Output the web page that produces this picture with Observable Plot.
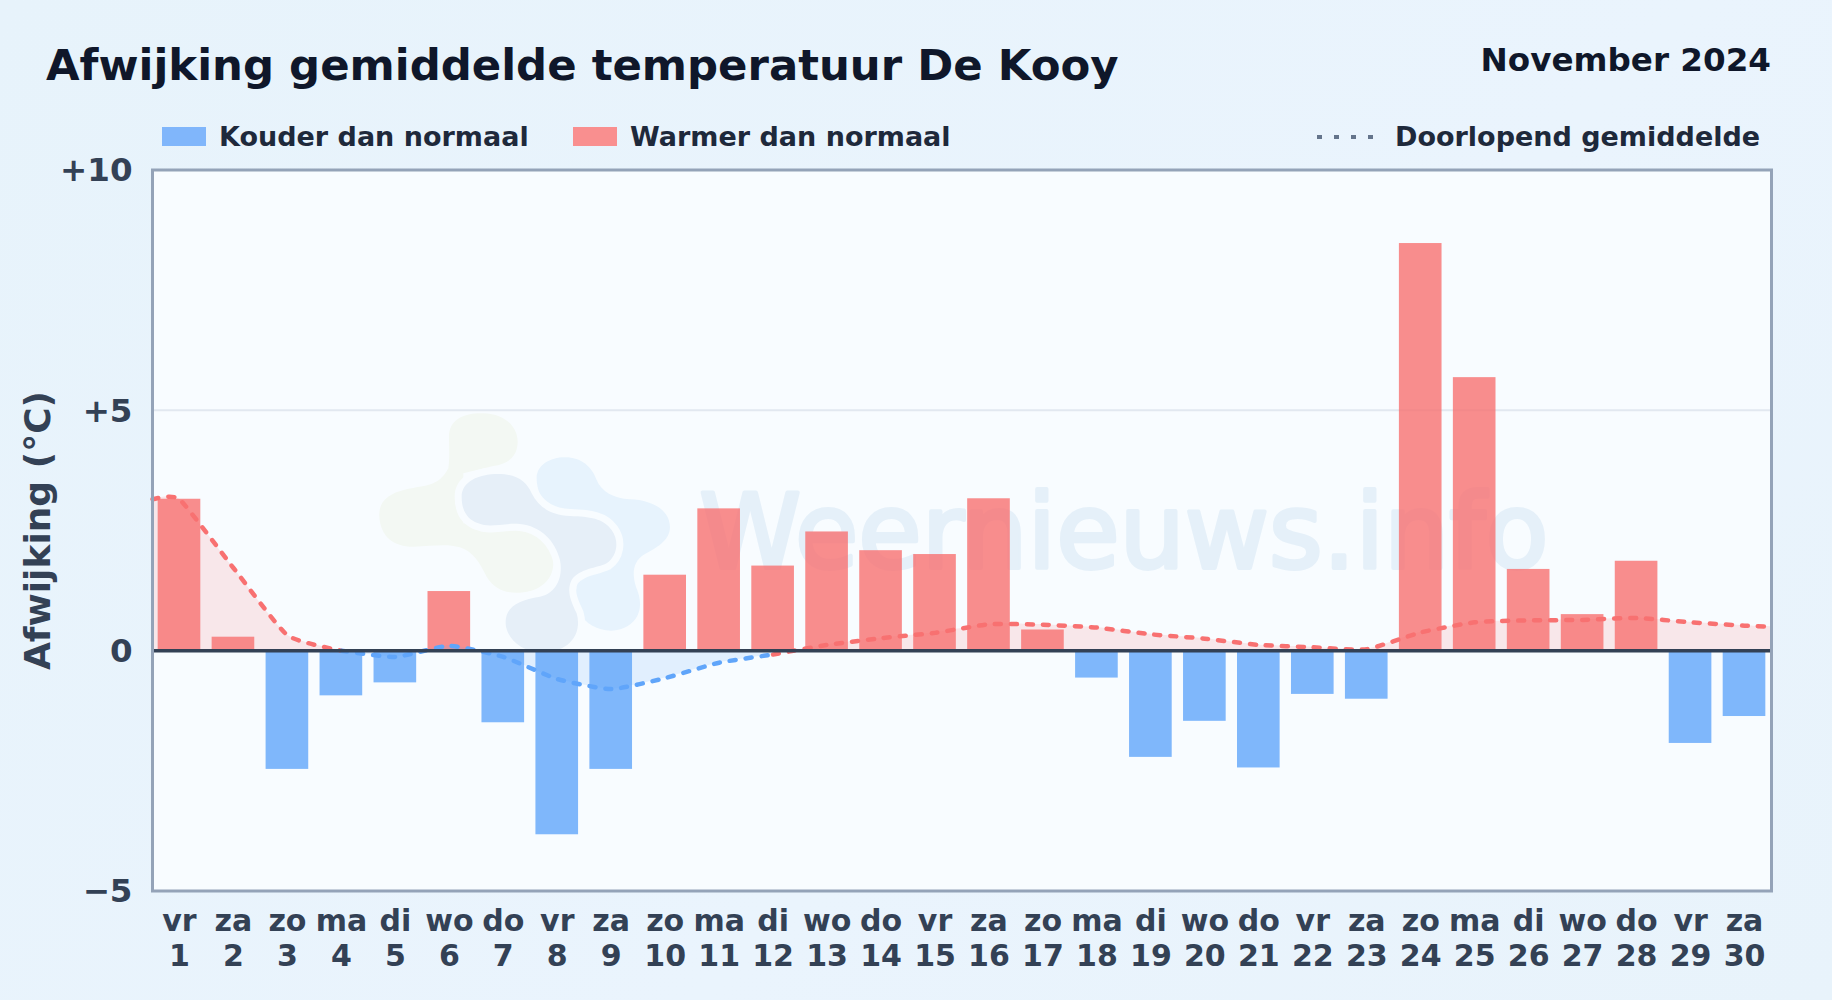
<!DOCTYPE html>
<html lang="nl">
<head>
<meta charset="utf-8">
<title>Afwijking gemiddelde temperatuur De Kooy</title>
<script src="https://cdn.jsdelivr.net/npm/d3@7"></script>
<script src="https://cdn.jsdelivr.net/npm/@observablehq/plot@0.6"></script>
<style>
  html, body { margin: 0; padding: 0; width: 1832px; height: 1000px; overflow: hidden; }
  body { background: linear-gradient(135deg, #e7f3fb 0%, #eaf4fd 60%, #e8f3fb 100%); font-family: "DejaVu Sans", sans-serif; font-weight: 700; }
  #head { position: relative; width: 1832px; height: 140px; }
  #head > * { position: absolute; white-space: nowrap; line-height: 1; }
  #title { left: 46px; top: 44px; font-size: 43.4px; color: #0f172a; }
  #month { right: 61px; top: 44px; font-size: 32.6px; color: #0f172a; }
  .lab { font-size: 27px; color: #1e293b; top: 123px; }
  .sw { top: 127px; height: 19px; width: 44px; }
  #chart svg { display: block; }
</style>
</head>
<body>
<div id="head">
  <div id="title">Afwijking gemiddelde temperatuur De Kooy</div>
  <div id="month">November 2024</div>
  <div class="sw" style="left:162px;background:#80b6fb"></div>
  <div class="lab" style="left:219px">Kouder dan normaal</div>
  <div class="sw" style="left:573px;background:#f98f8f"></div>
  <div class="lab" style="left:630px">Warmer dan normaal</div>
  <svg style="left:1317px;top:134px" width="58" height="6"><line x1="0" y1="3" x2="58" y2="3" stroke="#64748b" stroke-width="4" stroke-dasharray="5 12"/></svg>
  <div class="lab" style="left:1395px">Doorlopend gemiddelde</div>
</div>
<div id="chart"></div>
<script>
const days = d3.range(1, 31);
const weekdays = ["vr","za","zo","ma","di","wo","do","vr","za","zo","ma","di","wo","do","vr","za","zo","ma","di","wo","do","vr","za","zo","ma","di","wo","do","vr","za"];
const deviation = [3.15,0.28,-2.47,-0.94,-0.67,1.23,-1.5,-3.83,-2.47,1.57,2.95,1.76,2.47,2.08,2.0,3.16,0.43,-0.57,-2.22,-1.47,-2.44,-0.91,-1.01,8.47,5.68,1.69,0.75,1.86,-1.93,-1.37];
const meanWarmStartX = [0.5,1,2,3,4];
const meanWarmStart = [3.15,3.15,1.72,0.32,0.0];
const meanCoolX = [4,5,6,7,8,9,10,11,12];
const meanCool = [0.0,-0.13,0.1,-0.13,-0.59,-0.8,-0.57,-0.25,-0.08];
const meanWarmEndX = [12,13,14,15,16,17,18,19,20,21,22,23,24,25,26,27,28,29,30,30.5];
const meanWarmEnd = [-0.08,0.12,0.26,0.37,0.55,0.54,0.48,0.34,0.25,0.12,0.07,0.03,0.38,0.59,0.63,0.64,0.68,0.59,0.52,0.5];

const bars = days.map((d, i) => ({day: d, v: deviation[i]}));
const pts = (xs, ys) => xs.map((x, i) => ({x, y: ys[i]}));
const warmA = pts(meanWarmStartX, meanWarmStart);
const cool = pts(meanCoolX, meanCool);
const warmB = pts(meanWarmEndX, meanWarmEnd);

const RED = "#f87171", BLUE = "#60a5fa", INK = "#334155", PANEL = "#f8fcff";
const FONT = "DejaVu Sans";

function logo() {
  const g = d3.create("svg:g").attr("transform", "translate(350,260) scale(0.3333)");
  g.append("path").attr("fill", "#f3f8f3").attr("d",
    "M297,110 C297,60 340,38 400,40 C470,42 505,85 503,130 C500,175 470,192 430,198 L340,220 L340,370 L510,385 C570,400 610,440 610,490 C610,540 570,575 510,578 C470,580 435,570 410,530 C390,490 370,455 330,442 C290,430 250,438 190,440 C130,440 92,410 88,350 C85,305 115,280 170,268 C225,255 265,262 295,205 C300,170 297,140 297,110 Z");
  g.append("path").attr("fill", "#e7f3fd").attr("d",
    "M560,235 C560,195 600,172 645,172 C695,172 725,200 740,240 C755,275 790,295 840,298 C900,300 958,325 960,380 C960,420 925,440 880,465 C850,485 845,520 858,560 C880,610 875,660 820,685 C770,705 710,680 690,640 C670,600 660,560 680,520 L700,400 L600,330 C575,300 560,270 560,235 Z");
  g.append("path").attr("fill", "#e6eff8").attr("stroke", PANEL).attr("stroke-width", 42).attr("paint-order", "stroke").attr("d",
    "M335,290 C335,245 385,222 445,222 C500,222 530,245 545,280 C565,320 600,345 660,348 C720,350 760,355 785,390 C810,425 800,470 770,490 C740,505 690,505 665,540 C650,570 660,600 680,640 C695,690 670,745 600,755 C530,765 480,730 468,680 C460,625 500,600 570,590 C620,580 640,530 630,480 C615,420 570,378 510,372 C460,368 420,385 385,370 C350,358 335,330 335,290 Z");
  return g.node();
}

const lineOpts = {x: "x", y: "y", curve: "cardinal", tension: 0.5, strokeWidth: 4.5, strokeDasharray: "6 10", strokeLinecap: "round"};
const areaOpts = {x: "x", y: "y", y1: 0, curve: "cardinal", tension: 0.5};

const chart = Plot.plot({
  width: 1832,
  height: 860,
  marginTop: 29.5,
  marginBottom: 109.5,
  marginLeft: 152,
  marginRight: 61,
  style: {background: "transparent", fontFamily: FONT},
  x: {domain: [0.5, 30.5]},
  y: {domain: [-5, 10]},
  marks: [
    Plot.frame({fill: PANEL, stroke: null}),
    logo,
    Plot.text(["Weernieuws.info"], {x: 18.5, y: 2.4, text: d => d, fontSize: 103, fontWeight: 400, fill: "#e5f0f9", stroke: "#e5f0f9", strokeWidth: 4, textAnchor: "middle", lineAnchor: "middle"}),
    Plot.ruleY([5], {stroke: "#e2e8f0", strokeWidth: 2}),
    Plot.rectY(bars, {x1: d => d.day - 0.395, x2: d => d.day + 0.395, y1: 0, y2: "v", fill: d => d.v < 0 ? BLUE : RED, fillOpacity: 0.8}),
    Plot.areaY(warmA, {...areaOpts, y2: "y", fill: RED, fillOpacity: 0.15}),
    Plot.areaY(cool, {...areaOpts, y2: "y", fill: BLUE, fillOpacity: 0.15}),
    Plot.areaY(warmB, {...areaOpts, y2: "y", fill: RED, fillOpacity: 0.15}),
    Plot.line(warmA, {...lineOpts, stroke: RED}),
    Plot.line(cool, {...lineOpts, stroke: BLUE}),
    Plot.line(warmB, {...lineOpts, stroke: RED}),
    Plot.ruleY([0], {stroke: INK, strokeWidth: 3.5}),
    Plot.frame({stroke: "#94a3b8", strokeWidth: 3, fill: "none"}),
    Plot.text(["Afwijking (°C)"], {text: d => d, frameAnchor: "left", textAnchor: "middle", rotate: -90, dx: -114, fontSize: 36, fontWeight: 700, fill: INK}),
    Plot.axisY({
      ticks: [-5, 0, 5, 10],
      tickSize: 0,
      tickPadding: 20,
      dy: 1,
      tickFormat: d => d > 0 ? "+" + d : d < 0 ? "\u2212" + Math.abs(d) : "0",
      fontSize: 32.5,
      fontWeight: 700,
      fill: INK,
      label: null
    }),
    Plot.axisX({
      ticks: days,
      tickSize: 0,
      tickPadding: 15,
      tickFormat: d => weekdays[d - 1] + "\n" + d,
      fontSize: 30,
      fontWeight: 700,
      lineHeight: 1.167,
      fill: INK,
      label: null
    })
  ]
});
document.getElementById("chart").appendChild(chart);
</script>
</body>
</html>
